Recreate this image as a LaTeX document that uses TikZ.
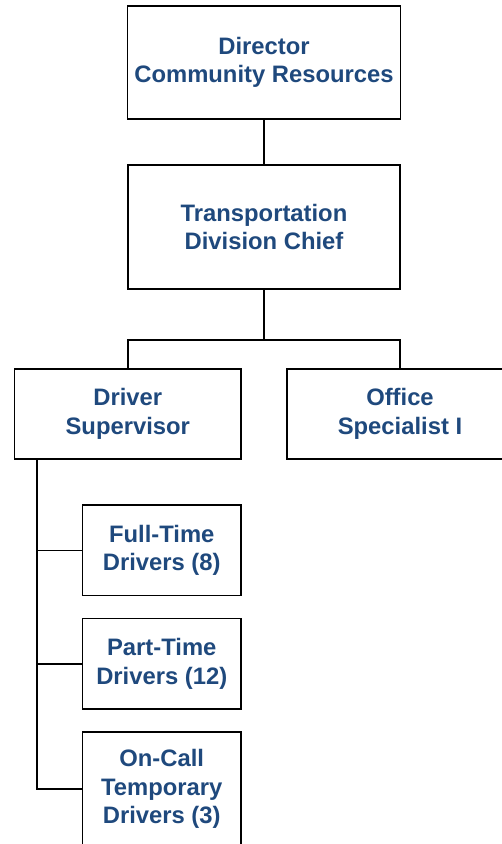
\documentclass[tikz,border=0pt]{standalone}
\usepackage{fontspec}
\setmainfont{Liberation Sans}
\usetikzlibrary{positioning}
\definecolor{titleblue}{RGB}{31,73,125}
\tikzset{
	post/.style={draw, line width=1.5pt, fill=white, align=center, inner sep=0pt,
		font=\fontsize{23.8}{28.5}\selectfont\bfseries, text=titleblue},
	link/.style={line width=1.5pt}
}

\begin{document}
\begin{tikzpicture}[x=1pt,y=-1pt]
		\useasboundingbox (0,0) rectangle (502,844);
		% top of the chart
		\node[post, minimum width=273pt, minimum height=113pt] (director) at (264,62.5) {Director\\Community Resources};
		\node[post, minimum width=272pt, minimum height=124pt] (chief) at (264,227) {Transportation\\Division Chief};
		\node[post, minimum width=226.5pt, minimum height=90pt] (supervisor) at (127.75,414) {Driver\\Supervisor};
		\node[post, minimum width=226.5pt, minimum height=90pt] (office) at (400,414) {Office\\Specialist I};
		% drivers
		\node[post, minimum width=158.5pt, minimum height=90.5pt] (fulltime) at (161.75,550.25) {Full-Time\\Drivers (8)};
		\node[post, minimum width=158.5pt, minimum height=90.5pt] (parttime) at (161.75,663.75) {Part-Time\\Drivers (12)};
		\node[post, minimum width=158.5pt, minimum height=114pt] (oncall) at (161.75,789) {On-Call\\Temporary\\Drivers (3)};
		
		\draw[link] (director) -- (chief);
		\draw[link] (chief.south) -- ++(0,50) coordinate (fork);
		\draw[link] (supervisor.north) |- (fork) -| (office.north);
		
		\coordinate (trunk) at (37,459);
		\draw[link] (trunk) |- (oncall.west);
		\draw[link] (trunk |- fulltime.west) -- (fulltime.west);
		\draw[link] (trunk |- parttime.west) -- (parttime.west);
	\end{tikzpicture}
\end{document}
